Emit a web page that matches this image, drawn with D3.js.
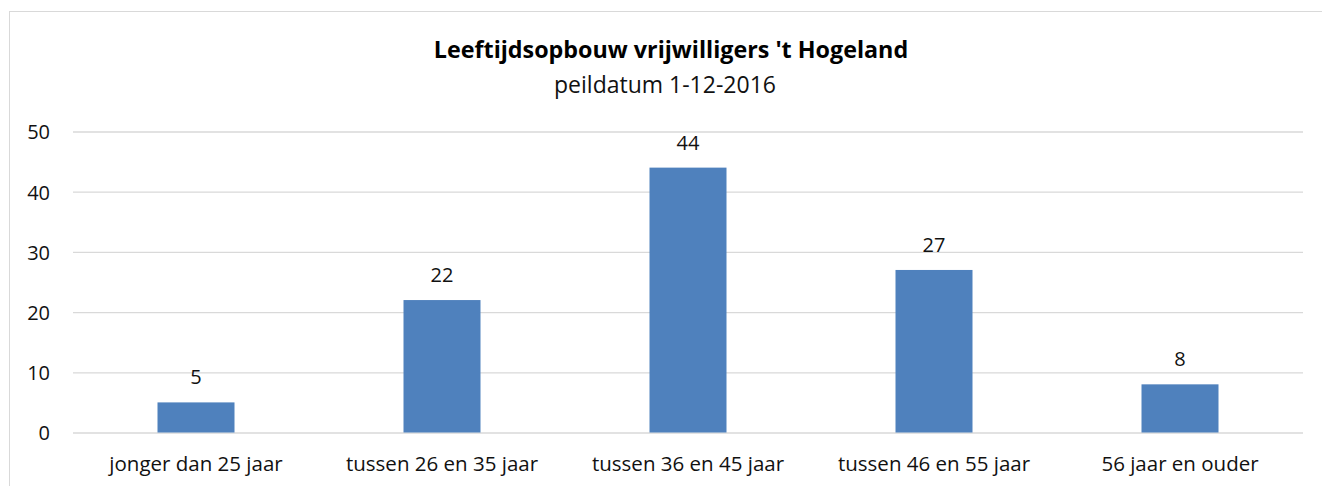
<!DOCTYPE html>
<html>
<head>
<meta charset="utf-8">
<script src="https://cdn.jsdelivr.net/npm/d3@7"></script>
<style>
  body { margin: 0; background: #fff; }
  svg text { font-family: "Open Sans", "Noto Sans", sans-serif; }
</style>
</head>
<body>
<div id="container"></div>
<script>
/* CONSTANTS AND GLOBALS */
const width = 1322,
  height = 486,
  margin = {top: 131.5, bottom: 53.5, left: 73, right: 19};

/* DATA */
const categories = ["jonger dan 25 jaar", "tussen 26 en 35 jaar", "tussen 36 en 45 jaar", "tussen 46 en 55 jaar", "56 jaar en ouder"];
const values = [5, 22, 44, 27, 8];
const yTicks = [0, 10, 20, 30, 40, 50];
const title = "Leeftijdsopbouw vrijwilligers 't Hogeland";
const subtitle = "peildatum 1-12-2016";

const data = categories.map((c, i) => ({cat: c, value: values[i]}));

// SCALES
const xScale = d3.scaleBand()
  .domain(categories)
  .range([margin.left, width - margin.right])
  .paddingInner(0.687)
  .paddingOuter(0.3435);

const yScale = d3.scaleLinear()
  .domain([0, 50])
  .range([height - margin.bottom, margin.top]);

// CREATE SVG ELEMENT
const svg = d3.select("#container")
  .append("svg")
  .attr("width", width)
  .attr("height", height);

// chart border
svg.append("rect")
  .attr("x", 9.5)
  .attr("y", 11.5)
  .attr("width", 1330)
  .attr("height", 500)
  .attr("fill", "none")
  .attr("stroke", "#d9d9d9");

// GRIDLINES + Y AXIS
const yAxis = d3.axisLeft(yScale)
  .tickValues(yTicks)
  .tickSize(-(width - margin.left - margin.right))
  .tickPadding(23);

const gy = svg.append("g")
  .attr("transform", `translate(${margin.left},0)`)
  .call(yAxis);
gy.select(".domain").remove();
gy.selectAll(".tick line").attr("stroke", "#d9d9d9").attr("stroke-width", 1.3);
gy.selectAll(".tick text")
  .attr("dy", "0.37em")
  .style("font-size", "20px")
  .attr("fill", "#111");

// X AXIS
const xAxis = d3.axisBottom(xScale).tickSize(0).tickPadding(24);
const gx = svg.append("g")
  .attr("transform", `translate(0, ${height - margin.bottom})`)
  .call(xAxis);
gx.select(".domain").remove();
gx.selectAll(".tick text")
  .style("font-size", "20.5px")
  .attr("fill", "#111");

// BARS
svg.selectAll("rect.bar")
  .data(data)
  .join("rect")
  .attr("class", "bar")
  .attr("x", d => xScale(d.cat))
  .attr("y", d => yScale(d.value))
  .attr("width", xScale.bandwidth())
  .attr("height", d => yScale(0) - yScale(d.value))
  .attr("fill", "#4f81bd");

// DATA LABELS
svg.selectAll("text.label")
  .data(data)
  .join("text")
  .attr("class", "label")
  .attr("x", d => xScale(d.cat) + xScale.bandwidth() / 2)
  .attr("y", d => yScale(d.value) - 18)
  .attr("text-anchor", "middle")
  .style("font-size", "20px")
  .attr("fill", "#111")
  .text(d => d.value);

// TITLE
svg.append("text")
  .attr("x", 671)
  .attr("y", 58)
  .attr("text-anchor", "middle")
  .style("font-size", "23.3px")
  .style("font-weight", "bold")
  .attr("fill", "#000")
  .text(title);

svg.append("text")
  .attr("x", 665)
  .attr("y", 93)
  .attr("text-anchor", "middle")
  .style("font-size", "23px")
  .attr("fill", "#111")
  .text(subtitle);
</script>
</body>
</html>
